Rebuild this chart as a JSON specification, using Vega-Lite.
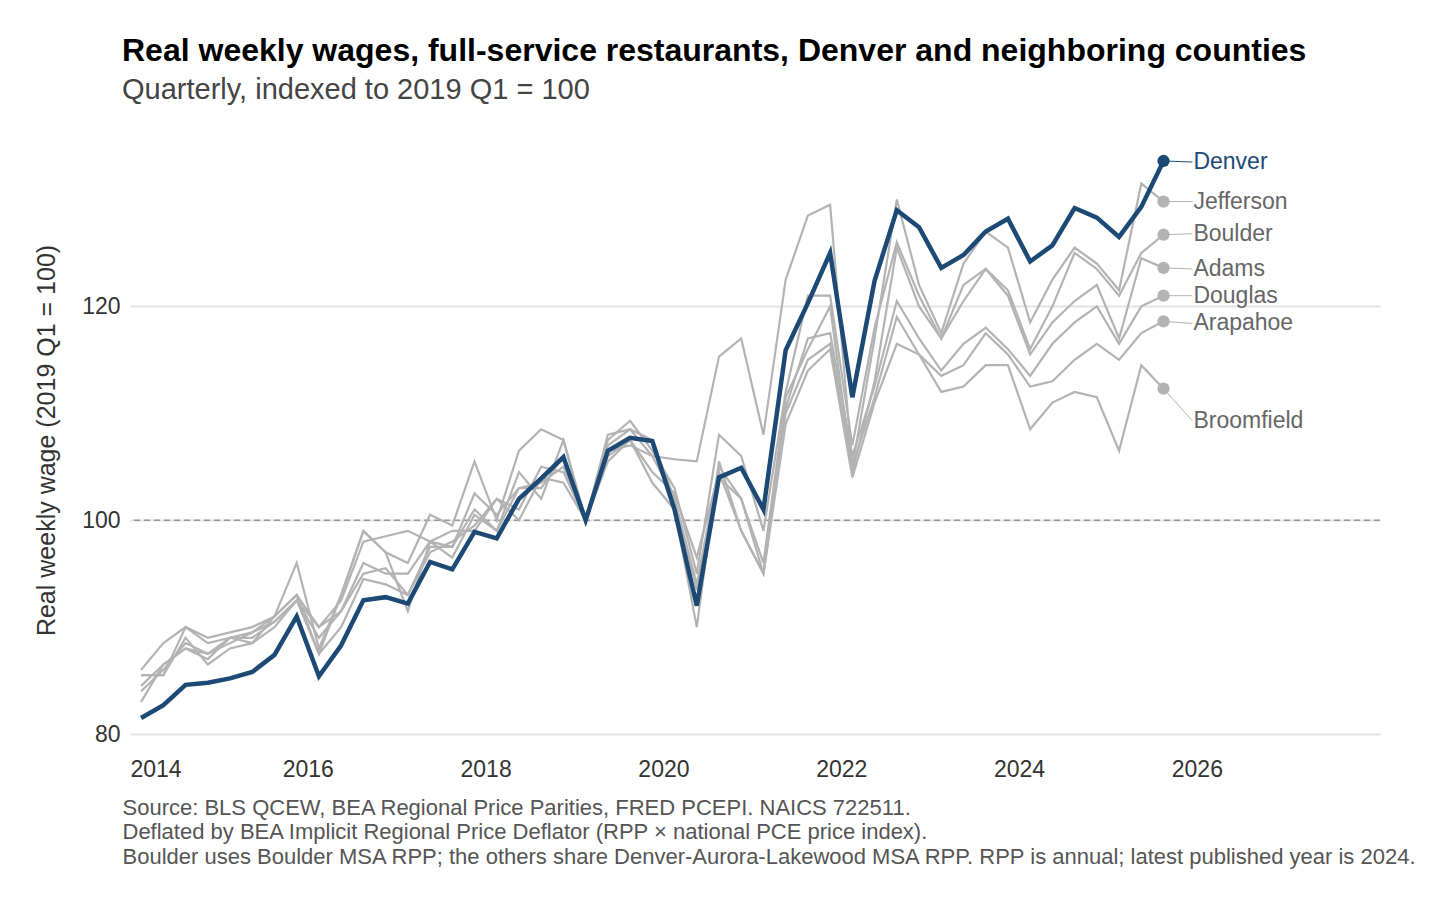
{
  "$schema": "https://vega.github.io/schema/vega-lite/v6.json",
  "autosize": "none",
  "padding": {"left": 130, "top": 146, "right": 76, "bottom": 176},
  "width": 1250,
  "height": 588,
  "background": "white",
  "config": {
    "view": {"stroke": null},
    "font": "Liberation Sans",
    "axis": {"labelFont": "Liberation Sans", "titleFont": "Liberation Sans"}
  },
  "title": {
    "text": "Real weekly wages, full-service restaurants, Denver and neighboring counties",
    "subtitle": "Quarterly, indexed to 2019 Q1 = 100",
    "anchor": "start",
    "frame": "group",
    "dx": -8,
    "offset": 40,
    "fontSize": 32,
    "fontWeight": "bold",
    "color": "#000000",
    "subtitleFontSize": 29,
    "subtitleColor": "#444444",
    "subtitlePadding": 8
  },
  "datasets": {
    "wages": [
      {"t": 2014.125, "Denver": 81.5, "Jefferson": 84, "Boulder": 86, "Adams": 85.5, "Douglas": 83, "Arapahoe": 84.5, "Broomfield": 85.5},
      {"t": 2014.375, "Denver": 82.7, "Jefferson": 86, "Boulder": 88.5, "Adams": 85.5, "Douglas": 86.5, "Arapahoe": 86.5, "Broomfield": 85.5},
      {"t": 2014.625, "Denver": 84.6, "Jefferson": 88.5, "Boulder": 90, "Adams": 90, "Douglas": 88, "Arapahoe": 88, "Broomfield": 89},
      {"t": 2014.875, "Denver": 84.8, "Jefferson": 87.5, "Boulder": 89, "Adams": 88.5, "Douglas": 87, "Arapahoe": 87.5, "Broomfield": 86.5},
      {"t": 2015.125, "Denver": 85.2, "Jefferson": 89, "Boulder": 89.5, "Adams": 89, "Douglas": 89, "Arapahoe": 88.5, "Broomfield": 88},
      {"t": 2015.375, "Denver": 85.8, "Jefferson": 89.5, "Boulder": 90, "Adams": 89, "Douglas": 88.5, "Arapahoe": 89.5, "Broomfield": 88.5},
      {"t": 2015.625, "Denver": 87.4, "Jefferson": 91, "Boulder": 91, "Adams": 90.5, "Douglas": 91, "Arapahoe": 90.5, "Broomfield": 90},
      {"t": 2015.875, "Denver": 91, "Jefferson": 93, "Boulder": 96, "Adams": 92.5, "Douglas": 93, "Arapahoe": 92.5, "Broomfield": 92.5},
      {"t": 2016.125, "Denver": 85.4, "Jefferson": 90, "Boulder": 88, "Adams": 90, "Douglas": 87.5, "Arapahoe": 89, "Broomfield": 87.5},
      {"t": 2016.375, "Denver": 88.3, "Jefferson": 92.5, "Boulder": 93, "Adams": 91.5, "Douglas": 93, "Arapahoe": 91.5, "Broomfield": 90},
      {"t": 2016.625, "Denver": 92.5, "Jefferson": 98, "Boulder": 99, "Adams": 96, "Douglas": 99, "Arapahoe": 95, "Broomfield": 94.5},
      {"t": 2016.875, "Denver": 92.8, "Jefferson": 98.5, "Boulder": 97, "Adams": 95, "Douglas": 97, "Arapahoe": 95.5, "Broomfield": 94},
      {"t": 2017.125, "Denver": 92.2, "Jefferson": 99, "Boulder": 96, "Adams": 95, "Douglas": 91.5, "Arapahoe": 93, "Broomfield": 93},
      {"t": 2017.375, "Denver": 96.1, "Jefferson": 98, "Boulder": 100.5, "Adams": 98, "Douglas": 98, "Arapahoe": 97.5, "Broomfield": 97},
      {"t": 2017.625, "Denver": 95.4, "Jefferson": 99, "Boulder": 99.5, "Adams": 97.5, "Douglas": 96.5, "Arapahoe": 97.5, "Broomfield": 98},
      {"t": 2017.875, "Denver": 98.9, "Jefferson": 99, "Boulder": 105.5, "Adams": 102.5, "Douglas": 100.5, "Arapahoe": 101, "Broomfield": 99.5},
      {"t": 2018.125, "Denver": 98.3, "Jefferson": 102, "Boulder": 100, "Adams": 100.5, "Douglas": 99, "Arapahoe": 99, "Broomfield": 102},
      {"t": 2018.375, "Denver": 102, "Jefferson": 101, "Boulder": 106.5, "Adams": 103, "Douglas": 104.5, "Arapahoe": 103, "Broomfield": 100},
      {"t": 2018.625, "Denver": 103.9, "Jefferson": 105, "Boulder": 108.5, "Adams": 103, "Douglas": 102, "Arapahoe": 103.5, "Broomfield": 104},
      {"t": 2018.875, "Denver": 105.9, "Jefferson": 104.5, "Boulder": 107.5, "Adams": 106, "Douglas": 107.5, "Arapahoe": 105, "Broomfield": 103.5},
      {"t": 2019.125, "Denver": 100, "Jefferson": 100, "Boulder": 100, "Adams": 100, "Douglas": 100, "Arapahoe": 100, "Broomfield": 100},
      {"t": 2019.375, "Denver": 106.5, "Jefferson": 108, "Boulder": 107.5, "Adams": 107, "Douglas": 106, "Arapahoe": 106.5, "Broomfield": 105.5},
      {"t": 2019.625, "Denver": 107.7, "Jefferson": 108.5, "Boulder": 109.3, "Adams": 108.5, "Douglas": 107.5, "Arapahoe": 107, "Broomfield": 107.5},
      {"t": 2019.875, "Denver": 107.4, "Jefferson": 106, "Boulder": 106.5, "Adams": 107.5, "Douglas": 103.5, "Arapahoe": 106, "Broomfield": 104.5},
      {"t": 2020.125, "Denver": 101, "Jefferson": 105.7, "Boulder": 103, "Adams": 102, "Douglas": 101, "Arapahoe": 102, "Broomfield": 102.5},
      {"t": 2020.375, "Denver": 92, "Jefferson": 105.5, "Boulder": 95, "Adams": 94, "Douglas": 90, "Arapahoe": 93.5, "Broomfield": 96.5},
      {"t": 2020.625, "Denver": 104, "Jefferson": 115.3, "Boulder": 108, "Adams": 105, "Douglas": 105.5, "Arapahoe": 104, "Broomfield": 104.5},
      {"t": 2020.875, "Denver": 104.9, "Jefferson": 117, "Boulder": 106, "Adams": 102, "Douglas": 99, "Arapahoe": 102, "Broomfield": 99},
      {"t": 2021.125, "Denver": 101, "Jefferson": 108, "Boulder": 99, "Adams": 96, "Douglas": 95, "Arapahoe": 95, "Broomfield": 95},
      {"t": 2021.375, "Denver": 115.9, "Jefferson": 122.5, "Boulder": 112, "Adams": 111.5, "Douglas": 110.5, "Arapahoe": 110, "Broomfield": 109},
      {"t": 2021.625, "Denver": 120.3, "Jefferson": 128.5, "Boulder": 121, "Adams": 116, "Douglas": 117, "Arapahoe": 115, "Broomfield": 114},
      {"t": 2021.875, "Denver": 125, "Jefferson": 129.5, "Boulder": 121, "Adams": 120, "Douglas": 117.5, "Arapahoe": 116.5, "Broomfield": 116},
      {"t": 2022.125, "Denver": 111.5, "Jefferson": 105, "Boulder": 107, "Adams": 104.5, "Douglas": 106, "Arapahoe": 105, "Broomfield": 104},
      {"t": 2022.375, "Denver": 122.4, "Jefferson": 117, "Boulder": 118, "Adams": 113, "Douglas": 112.5, "Arapahoe": 111.5, "Broomfield": 111},
      {"t": 2022.625, "Denver": 129, "Jefferson": 130, "Boulder": 126, "Adams": 125.5, "Douglas": 120.5, "Arapahoe": 119, "Broomfield": 116.5},
      {"t": 2022.875, "Denver": 127.4, "Jefferson": 122, "Boulder": 121, "Adams": 120, "Douglas": 117, "Arapahoe": 115.5, "Broomfield": 115.5},
      {"t": 2023.125, "Denver": 123.6, "Jefferson": 117.5, "Boulder": 117, "Adams": 117, "Douglas": 114, "Arapahoe": 113.5, "Broomfield": 112},
      {"t": 2023.375, "Denver": 124.8, "Jefferson": 124, "Boulder": 122, "Adams": 120.5, "Douglas": 116.5, "Arapahoe": 114.5, "Broomfield": 112.5},
      {"t": 2023.625, "Denver": 127, "Jefferson": 127, "Boulder": 123.5, "Adams": 123.5, "Douglas": 118, "Arapahoe": 117.5, "Broomfield": 114.5},
      {"t": 2023.875, "Denver": 128.2, "Jefferson": 125.5, "Boulder": 121.5, "Adams": 121, "Douglas": 116, "Arapahoe": 115.5, "Broomfield": 114.5},
      {"t": 2024.125, "Denver": 124.2, "Jefferson": 118.5, "Boulder": 116, "Adams": 115.5, "Douglas": 113.5, "Arapahoe": 112.5, "Broomfield": 108.5},
      {"t": 2024.375, "Denver": 125.7, "Jefferson": 122.5, "Boulder": 120, "Adams": 118.5, "Douglas": 116.5, "Arapahoe": 113, "Broomfield": 111},
      {"t": 2024.625, "Denver": 129.2, "Jefferson": 125.5, "Boulder": 125, "Adams": 120.5, "Douglas": 118.5, "Arapahoe": 115, "Broomfield": 112},
      {"t": 2024.875, "Denver": 128.3, "Jefferson": 124, "Boulder": 123.5, "Adams": 122, "Douglas": 120, "Arapahoe": 116.5, "Broomfield": 111.5},
      {"t": 2025.125, "Denver": 126.5, "Jefferson": 121.5, "Boulder": 121, "Adams": 117, "Douglas": 116.5, "Arapahoe": 115, "Broomfield": 106.5},
      {"t": 2025.375, "Denver": 129.3, "Jefferson": 131.5, "Boulder": 125, "Adams": 124.5, "Douglas": 120, "Arapahoe": 117.5, "Broomfield": 114.5},
      {"t": 2025.625, "Denver": 133.6, "Jefferson": 129.8, "Boulder": 126.7, "Adams": 123.6, "Douglas": 121, "Arapahoe": 118.6, "Broomfield": 112.3}
    ],
    "labels": [
      {"county": "Denver", "t": 2025.625, "v": 133.6, "lt": 2025.95, "lv": 133.5},
      {"county": "Jefferson", "t": 2025.625, "v": 129.8, "lt": 2025.95, "lv": 129.8},
      {"county": "Boulder", "t": 2025.625, "v": 126.7, "lt": 2025.95, "lv": 126.8},
      {"county": "Adams", "t": 2025.625, "v": 123.6, "lt": 2025.95, "lv": 123.5},
      {"county": "Douglas", "t": 2025.625, "v": 121, "lt": 2025.95, "lv": 121},
      {"county": "Arapahoe", "t": 2025.625, "v": 118.6, "lt": 2025.95, "lv": 118.4},
      {"county": "Broomfield", "t": 2025.625, "v": 112.3, "lt": 2025.95, "lv": 109.3}
    ]
  },
  "layer": [
    {
      "data": {"values": [{"y": 100}]},
      "mark": {"type": "rule", "color": "#999999", "strokeDash": [6, 4], "strokeWidth": 1.5},
      "encoding": {"y": {"field": "y", "type": "quantitative"}}
    },
    {
      "data": {"name": "wages"},
      "transform": [
        {"fold": ["Jefferson", "Boulder", "Adams", "Douglas", "Arapahoe", "Broomfield"], "as": ["county", "v"]}
      ],
      "mark": {"type": "line", "color": "#b3b3b3", "strokeWidth": 2.2},
      "encoding": {
        "x": {
          "field": "t", "type": "quantitative",
          "scale": {"domain": [2014, 2028.06], "nice": false, "zero": false},
          "axis": {
            "values": [2014, 2016, 2018, 2020, 2022, 2024, 2026],
            "format": "d", "grid": false, "domain": false, "ticks": false,
            "labelFontSize": 23, "labelColor": "#333333", "labelPadding": 24,
            "title": [
              "Source: BLS QCEW, BEA Regional Price Parities, FRED PCEPI. NAICS 722511.",
              "Deflated by BEA Implicit Regional Price Deflator (RPP × national PCE price index).",
              "Boulder uses Boulder MSA RPP; the others share Denver-Aurora-Lakewood MSA RPP. RPP is annual; latest published year is 2024."
            ],
            "titleAnchor": "start", "titleAlign": "left", "titleX": -8,
            "titleFontSize": 22, "titleFontWeight": "normal", "titleColor": "#555555",
            "titlePadding": 16, "titleLineHeight": 24.5
          }
        },
        "y": {
          "field": "v", "type": "quantitative",
          "scale": {"domain": [80, 135], "nice": false, "zero": false},
          "axis": {
            "values": [80, 100, 120],
            "grid": true, "gridColor": "#e3e3e3", "gridWidth": 2,
            "domain": false, "ticks": false,
            "labelFontSize": 23, "labelColor": "#333333", "labelPadding": 10,
            "title": "Real weekly wage (2019 Q1 = 100)",
            "titleFontSize": 25, "titleFontWeight": "normal", "titleColor": "#333333",
            "titlePadding": 22
          }
        },
        "detail": {"field": "county", "type": "nominal"}
      }
    },
    {
      "data": {"name": "wages"},
      "mark": {"type": "line", "color": "#1c4a75", "strokeWidth": 4.5},
      "encoding": {
        "x": {"field": "t", "type": "quantitative"},
        "y": {"field": "Denver", "type": "quantitative"}
      }
    },
    {
      "data": {"name": "labels"},
      "mark": {"type": "rule", "strokeWidth": 1},
      "encoding": {
        "x": {"field": "t", "type": "quantitative"},
        "y": {"field": "v", "type": "quantitative"},
        "x2": {"field": "lt"},
        "y2": {"field": "lv"},
        "color": {"condition": {"test": "datum.county == 'Denver'", "value": "#1c4a75"}, "value": "#b3b3b3"}
      }
    },
    {
      "data": {"name": "labels"},
      "mark": {"type": "circle", "size": 150, "opacity": 1},
      "encoding": {
        "x": {"field": "t", "type": "quantitative"},
        "y": {"field": "v", "type": "quantitative"},
        "color": {"condition": {"test": "datum.county == 'Denver'", "value": "#1c4a75"}, "value": "#b3b3b3"}
      }
    },
    {
      "data": {"name": "labels"},
      "mark": {"type": "text", "align": "left", "baseline": "middle", "dx": 1, "fontSize": 23},
      "encoding": {
        "x": {"field": "lt", "type": "quantitative"},
        "y": {"field": "lv", "type": "quantitative"},
        "text": {"field": "county"},
        "color": {"condition": {"test": "datum.county == 'Denver'", "value": "#1c4a75"}, "value": "#666666"},
        "fontWeight": {"condition": {"test": "datum.county == 'Denver'", "value": "bold"}, "value": "normal"}
      }
    }
  ]
}
